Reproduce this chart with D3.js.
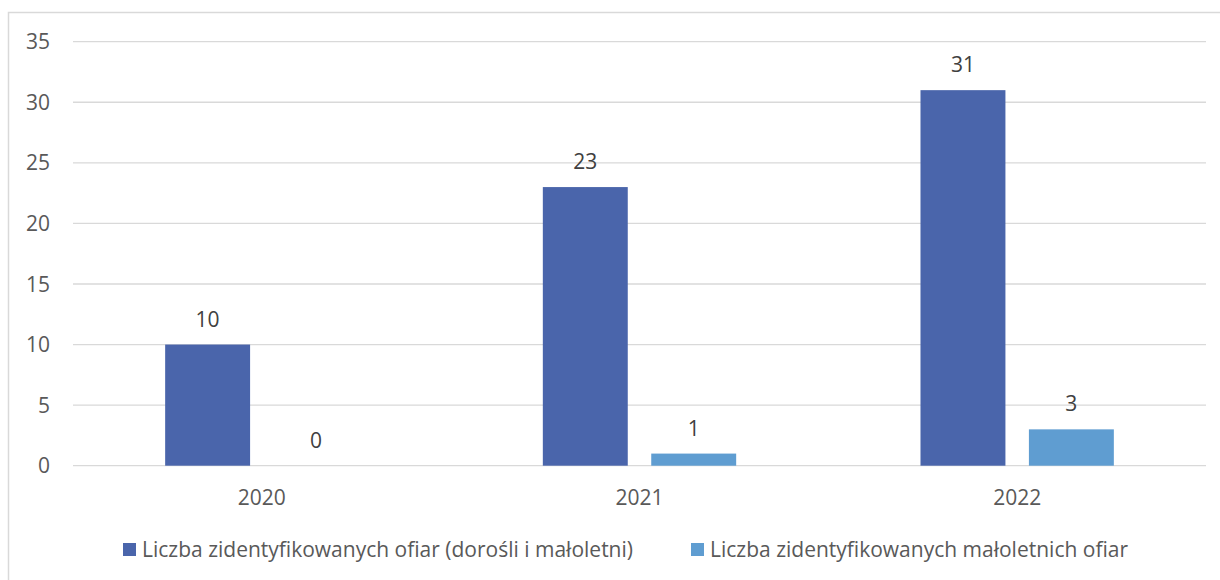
<!DOCTYPE html>
<html>
<head>
<meta charset="utf-8">
<script src="https://cdn.jsdelivr.net/npm/d3@7"></script>
<style>
  html, body { margin: 0; padding: 0; background: #ffffff; }
  svg { display: block; font-family: "Open Sans", "Noto Sans", sans-serif; }
</style>
</head>
<body>
<svg id="chart" width="1220" height="580"></svg>
<script>
const years = ["2020", "2021", "2022"];
const seriesNames = ["Liczba zidentyfikowanych ofiar (dorośli i małoletni)", "Liczba zidentyfikowanych małoletnich ofiar"];
const allVictims = [10, 23, 31];
const minorVictims = [0, 1, 3];
const yTicks = [0, 5, 10, 15, 20, 25, 30, 35];
const colors = ["#4A65AB", "#5F9DD1"];

const seriesValues = [allVictims, minorVictims];
const svg = d3.select("#chart");

// chart border
svg.append("rect")
  .attr("x", 8.5).attr("y", 12.5)
  .attr("width", 1300).attr("height", 700)
  .attr("fill", "none").attr("stroke", "#d9d9d9").attr("stroke-width", 1.5);

const plotLeft = 73, plotRight = 1206, plotTop = 41.7, plotBottom = 465.7;

const x0 = d3.scaleBand().domain(years).range([plotLeft, plotRight]).padding(0);
const x1 = d3.scaleBand().domain([0, 1]).range([0, x0.bandwidth()])
  .paddingInner(0.2166).paddingOuter(0.85);
const y = d3.scaleLinear().domain([0, 35]).range([plotBottom, plotTop]);

// gridlines
svg.append("g").selectAll("line").data(yTicks).join("line")
  .attr("x1", plotLeft).attr("x2", plotRight)
  .attr("y1", d => y(d)).attr("y2", d => y(d))
  .attr("stroke", "#d9d9d9").attr("stroke-width", 1.3);

// y axis labels
svg.append("g").selectAll("text").data(yTicks).join("text")
  .attr("x", 50).attr("y", d => y(d)).attr("dy", "0.36em")
  .attr("text-anchor", "end")
  .attr("font-size", 21).attr("fill", "#595959")
  .text(d => d);

// bars
const groups = svg.append("g").selectAll("g").data(years).join("g")
  .attr("transform", d => `translate(${x0(d)},0)`);

groups.each(function(yr, i) {
  const g = d3.select(this);
  const vals = seriesValues.map((s, k) => ({k, v: s[i]}));
  g.selectAll("rect").data(vals).join("rect")
    .attr("x", d => x1(d.k))
    .attr("width", x1.bandwidth())
    .attr("y", d => y(d.v))
    .attr("height", d => y(0) - y(d.v))
    .attr("fill", d => colors[d.k]);
  g.selectAll("text").data(vals).join("text")
    .attr("x", d => x1(d.k) + x1.bandwidth() / 2)
    .attr("y", d => y(d.v) - 18)
    .attr("text-anchor", "middle")
    .attr("font-size", 21).attr("fill", "#404040")
    .text(d => d.v);
});

// x axis labels
svg.append("g").selectAll("text").data(years).join("text")
  .attr("x", d => x0(d) + x0.bandwidth() / 2)
  .attr("y", 505)
  .attr("text-anchor", "middle")
  .attr("font-size", 21).attr("fill", "#595959")
  .text(d => d);

// legend
const legendX = [123, 691];
const leg = svg.append("g").selectAll("g").data(seriesNames).join("g")
  .attr("transform", (d, i) => `translate(${legendX[i]},0)`);
leg.append("rect")
  .attr("x", 0).attr("y", 543).attr("width", 13).attr("height", 13)
  .attr("fill", (d, i) => colors[i]);
leg.append("text")
  .attr("x", 19).attr("y", 557)
  .attr("font-size", 21).attr("fill", "#595959")
  .text(d => d);
</script>
</body>
</html>
